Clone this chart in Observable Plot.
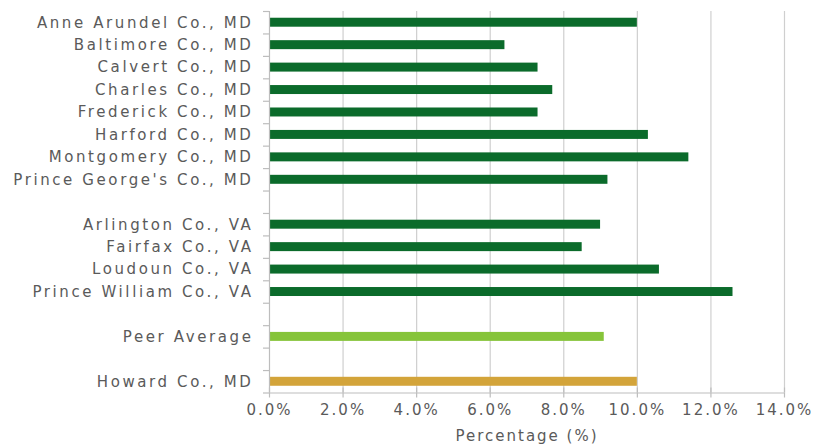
<!DOCTYPE html>
<html>
<head>
<meta charset="utf-8">
<script src="https://cdn.jsdelivr.net/npm/d3@7"></script>
<script src="https://cdn.jsdelivr.net/npm/@observablehq/plot@0.6"></script>
<style>
  html, body { margin: 0; padding: 0; background: #fff; }
  #chart svg { display: block; }
  #chart svg text { letter-spacing: 2px; }
  #chart svg g[aria-label="y-axis tick label"] text { letter-spacing: 2.6px; }
</style>
</head>
<body>
<div id="chart"></div>
<script>
const categories = [
  "Anne Arundel Co., MD", "Baltimore Co., MD", "Calvert Co., MD", "Charles Co., MD",
  "Frederick Co., MD", "Harford Co., MD", "Montgomery Co., MD", "Prince George's Co., MD",
  "Arlington Co., VA", "Fairfax Co., VA", "Loudoun Co., VA", "Prince William Co., VA",
  "Peer Average", "Howard Co., MD"
];
const values = [10.0, 6.4, 7.3, 7.7, 7.3, 10.3, 11.4, 9.2, 9.0, 8.5, 10.6, 12.6, 9.1, 10.0];
const groups = ["peer", "peer", "peer", "peer", "peer", "peer", "peer", "peer",
                "peer", "peer", "peer", "peer", "average", "howard"];
const groupColors = {peer: "#0b6b2b", average: "#86c43a", howard: "#d3a43a"};
// category order including blank spacer rows
const yDomain = [
  ...categories.slice(0, 8), " ",
  ...categories.slice(8, 12), "  ",
  "Peer Average", "   ",
  "Howard Co., MD"
];
const xTicks = [0, 2, 4, 6, 8, 10, 12, 14];

const data = categories.map((c, i) => ({category: c, value: values[i], group: groups[i]}));

const height = 445, marginTop = 11, marginBottom = 52.5;
const step = (height - marginTop - marginBottom) / yDomain.length;
const axisColor = "#bdbdbd";

const chart = Plot.plot({
  width: 819,
  height,
  marginLeft: 269,
  marginRight: 35,
  marginTop,
  marginBottom,
  style: {fontFamily: "'DejaVu Sans', sans-serif", color: "#5a5a5a", background: "#fff"},
  x: {domain: [0, 14], ticks: xTicks},
  y: {domain: yDomain, paddingInner: 0.6, paddingOuter: 0.3, round: false, label: null},
  marks: [
    Plot.gridX(xTicks.filter(d => d > 0), {stroke: "#cfcfcf", strokeOpacity: 1, strokeWidth: 1.2}),
    Plot.barX(data, {
      y: "category", x: "value",
      fill: d => groupColors[d.group]
    }),
    // y axis line and boundary ticks
    Plot.ruleX([0], {stroke: axisColor, strokeWidth: 1.2}),
    Plot.axisY({ticks: yDomain, tickSize: 6, tickFormat: () => "", label: null, dy: step / 2, stroke: axisColor, strokeWidth: 1.2}),
    Plot.axisY({ticks: [yDomain[0]], tickSize: 6, tickFormat: () => "", label: null, dy: -step / 2, stroke: axisColor, strokeWidth: 1.2}),
    Plot.axisY({tickSize: 0, tickPadding: 16, fontSize: 15, label: null, fill: "#5a5a5a", tickFormat: d => d.trim() === "" ? "" : d}),
    // x axis
    Plot.axisX({ticks: xTicks, tickSize: 5, tickPadding: 6, fontSize: 15, fill: "#5a5a5a", stroke: axisColor, strokeWidth: 1.2,
      tickFormat: d => d.toFixed(1) + "%", label: "Percentage (%)", labelAnchor: "center", labelArrow: "none", labelOffset: 48}),
    Plot.axisX({ticks: xTicks, tickSize: 5, dy: -5, tickFormat: () => "", label: null, stroke: axisColor, strokeWidth: 1.2}),
    Plot.ruleY([yDomain[yDomain.length - 1]], {dy: step / 2, stroke: axisColor, strokeWidth: 1.2})
  ]
});
document.getElementById("chart").appendChild(chart);
</script>
</body>
</html>
